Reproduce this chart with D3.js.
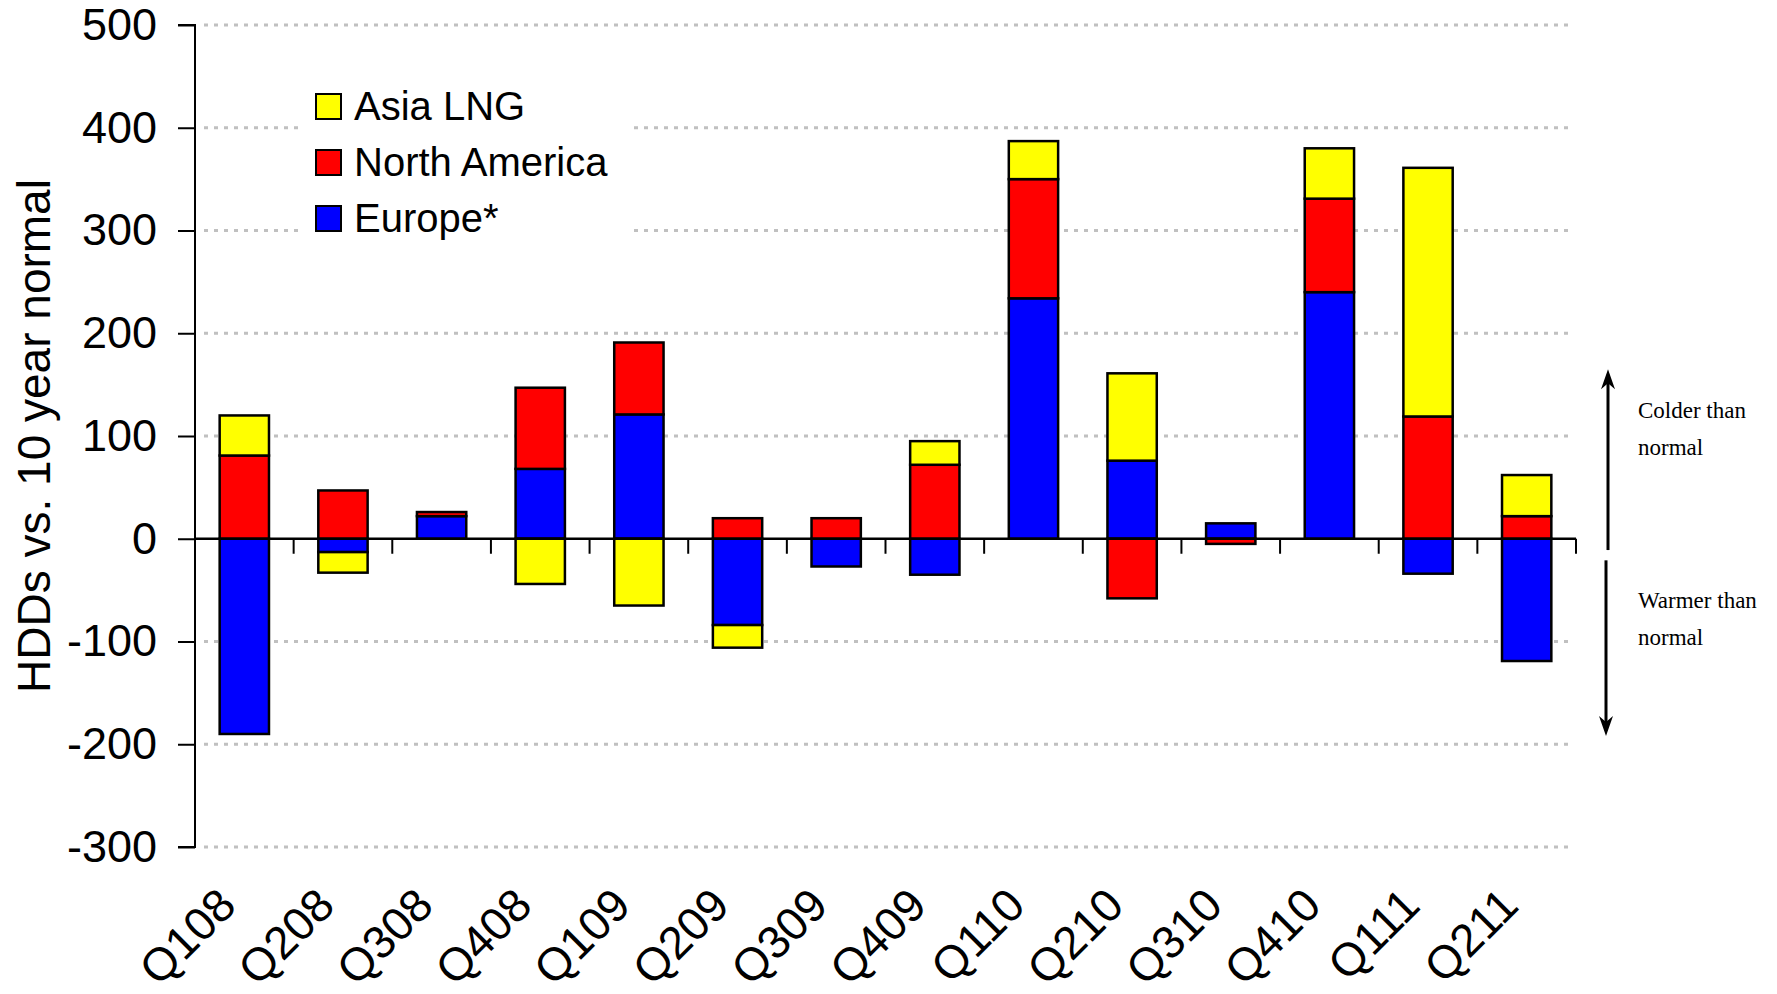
<!DOCTYPE html>
<html>
<head>
<meta charset="utf-8">
<script src="https://cdn.jsdelivr.net/npm/d3@7"></script>
<style>
  body { margin: 0; background: #fff; }
  svg { display: block; }
</style>
</head>
<body>
<svg id="chart" width="1777" height="994"></svg>
<script>
// quarters on the x axis
const quarters = ["Q108", "Q208", "Q308", "Q408", "Q109", "Q209", "Q309",
                  "Q409", "Q110", "Q210", "Q310", "Q410", "Q111", "Q211"];

// HDDs vs. 10 year normal, per region
const europe       = [-190, -13, 22, 68, 121, -84, -27, -35, 234, 76, 15, 240, -34, -119];
const northAmerica = [81, 47, 4, 79, 70, 20, 20, 72, 116, -58, -5, 91, 119, 22];
const asiaLng      = [39, -20, 0, -44, -65, -22, 0, 23, 37, 85, 0, 49, 242, 40];

const yTicks = [500, 400, 300, 200, 100, 0, -100, -200, -300];

const seriesNames = ["Europe*", "North America", "Asia LNG"];
const colors = {"Europe*": "#0000ff", "North America": "#ff0000", "Asia LNG": "#ffff00"};

const font = '"Liberation Sans", Arial, sans-serif';

// build rows for the stack
let rows = quarters.map((q, i) => ({
    quarter: q,
    "Europe*": europe[i],
    "North America": northAmerica[i],
    "Asia LNG": asiaLng[i]
}));

let svg = d3.select("#chart");

const plotLeft = 195, plotRight = 1576, plotTop = 25, plotBottom = 847;

let x = d3.scaleBand()
    .domain(quarters)
    .range([plotLeft, plotRight])
    .paddingInner(0.5)
    .paddingOuter(0.25);

let y = d3.scaleLinear()
    .domain([-300, 500])
    .range([plotBottom, plotTop]);

// dotted gridlines (zero is drawn by the axis)
svg.append("g")
    .selectAll("line")
    .data(yTicks.filter(d => d != 0))
    .join("line")
    .attr("x1", plotLeft + 9)
    .attr("x2", plotRight - 4)
    .attr("y1", d => y(d))
    .attr("y2", d => y(d))
    .attr("stroke", "#c0c0c0")
    .attr("stroke-width", 3)
    .attr("stroke-dasharray", "4,6");

// legend background covers the grid behind it
svg.append("rect")
    .attr("x", 300).attr("y", 72)
    .attr("width", 330).attr("height", 180)
    .attr("fill", "#fff");

// stacked bars
let stack = d3.stack()
    .keys(seriesNames)
    .offset(d3.stackOffsetDiverging);

let stacked = stack(rows);

svg.append("g")
    .selectAll("g")
    .data(stacked)
    .join("g")
    .attr("fill", d => colors[d.key])
    .selectAll("rect")
    .data(d => d.filter(s => s[0] != s[1]))
    .join("rect")
    .attr("x", d => x(d.data.quarter))
    .attr("width", x.bandwidth())
    .attr("y", d => y(Math.max(d[0], d[1])))
    .attr("height", d => Math.abs(y(d[0]) - y(d[1])))
    .attr("stroke", "#000")
    .attr("stroke-width", 2.5);

// y axis
let yAxis = d3.axisLeft(y)
    .tickValues(yTicks)
    .tickFormat(d => String(d))
    .tickSize(17)
    .tickPadding(21);

let yg = svg.append("g")
    .attr("transform", `translate(${plotLeft},0)`)
    .call(yAxis);
yg.select(".domain").attr("stroke", "#000").attr("stroke-width", 2)
    .attr("d", `M-17,${plotTop}H0V${plotBottom}H-17`);
yg.selectAll(".tick line").attr("stroke", "#000").attr("stroke-width", 2);
yg.selectAll(".tick text")
    .attr("fill", "#000")
    .style("font-family", font)
    .style("font-size", "45px");

// zero line with category boundary ticks
svg.append("line")
    .attr("x1", plotLeft).attr("x2", plotRight)
    .attr("y1", y(0)).attr("y2", y(0))
    .attr("stroke", "#000").attr("stroke-width", 2.5);

svg.append("g")
    .selectAll("line")
    .data(quarters)
    .join("line")
    .attr("x1", d => x(d) + x.step() * 0.75)
    .attr("x2", d => x(d) + x.step() * 0.75)
    .attr("y1", y(0))
    .attr("y2", y(0) + 15)
    .attr("stroke", "#000").attr("stroke-width", 2);

// x labels, rotated, below the plot
svg.append("g")
    .selectAll("text")
    .data(quarters)
    .join("text")
    .attr("transform", d => `translate(${x(d) + x.bandwidth() / 2 - 6},${plotBottom + 61}) rotate(-45)`)
    .attr("text-anchor", "end")
    .style("font-family", font)
    .style("font-size", "46px")
    .text(d => d);

// y title
svg.append("text")
    .attr("transform", `translate(50,${(plotTop + plotBottom) / 2}) rotate(-90)`)
    .attr("text-anchor", "middle")
    .style("font-family", font)
    .style("font-size", "46px")
    .text("HDDs vs. 10 year normal");

// legend
let legendItems = ["Asia LNG", "North America", "Europe*"];
let legend = svg.append("g");
legendItems.forEach((name, i) => {
    let ly = 94 + i * 56;
    legend.append("rect")
        .attr("x", 316).attr("y", ly)
        .attr("width", 25).attr("height", 25)
        .attr("fill", colors[name])
        .attr("stroke", "#000").attr("stroke-width", 2);
    legend.append("text")
        .attr("x", 354).attr("y", ly + 26)
        .style("font-family", font)
        .style("font-size", "40px")
        .text(name);
});

// colder / warmer annotation
let ann = svg.append("g");
function arrow(xPos, yFrom, yTo) {
    let dir = yTo < yFrom ? -1 : 1;
    ann.append("line")
        .attr("x1", xPos).attr("x2", xPos)
        .attr("y1", yFrom).attr("y2", yTo - dir * 12)
        .attr("stroke", "#000").attr("stroke-width", 3);
    ann.append("path")
        .attr("d", `M${xPos},${yTo} L${xPos - 7},${yTo - dir * 20} L${xPos},${yTo - dir * 14} L${xPos + 7},${yTo - dir * 20} Z`)
        .attr("fill", "#000");
}
arrow(1608, y(-11), y(165));
arrow(1606, y(-21), y(-192));

let annText = [["Colder than", 418], ["normal", 455], ["Warmer than", 608], ["normal", 645]];
ann.selectAll("text")
    .data(annText)
    .join("text")
    .attr("x", 1638)
    .attr("y", d => d[1])
    .style("font-family", '"Liberation Serif", "DejaVu Serif", serif')
    .style("font-size", "23px")
    .text(d => d[0]);
</script>
</body>
</html>
